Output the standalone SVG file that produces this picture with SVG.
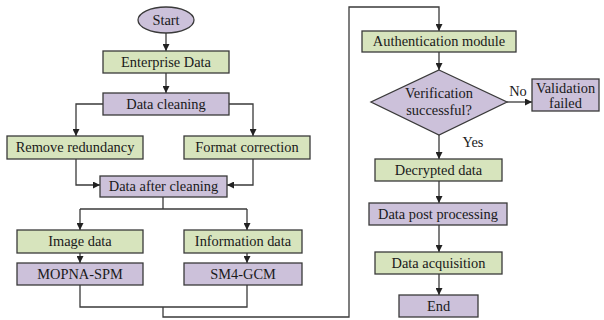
<svg xmlns="http://www.w3.org/2000/svg" width="604" height="320" viewBox="0 0 604 320">
<style>
.g{fill:#d7e4bd;stroke:#3a3a3a;stroke-width:1.3}
.p{fill:#ccc1da;stroke:#3a3a3a;stroke-width:1.3}
.t{font-family:"Liberation Serif","Times New Roman",serif;font-size:14.4px;fill:#1a1a1a;text-anchor:middle}
.c{fill:none;stroke:#3a3a3a;stroke-width:1.3}
</style>
<defs>
<marker id="a" viewBox="0 0 10 10" refX="10" refY="5" markerWidth="7" markerHeight="7" markerUnits="userSpaceOnUse" orient="auto">
<path d="M0,0 L10,5 L0,10 z" fill="#222"/>
</marker>
</defs>
<rect width="604" height="320" fill="#fff"/>
<g id="connectors">
<path class="c" d="M166,33 V51" marker-end="url(#a)"/>
<path class="c" d="M166,73 V93" marker-end="url(#a)"/>
<path class="c" d="M103,104 H76 V136" marker-end="url(#a)"/>
<path class="c" d="M229,104 H253 V136" marker-end="url(#a)"/>
<path class="c" d="M76,159 V185 H100" marker-end="url(#a)"/>
<path class="c" d="M253,159 V185 H227" marker-end="url(#a)"/>
<path class="c" d="M163,197 V209"/>
<path class="c" d="M80,209 H247"/>
<path class="c" d="M80,209 V230" marker-end="url(#a)"/>
<path class="c" d="M247,209 V230" marker-end="url(#a)"/>
<path class="c" d="M80,253 V263" marker-end="url(#a)"/>
<path class="c" d="M247,253 V263" marker-end="url(#a)"/>
<path class="c" d="M80,285 V307 H247 V285"/>
<path class="c" d="M163,307 V317 H349 V7 H439 V31" marker-end="url(#a)"/>
<path class="c" d="M439,52 V70" marker-end="url(#a)"/>
<path class="c" d="M507,102 H532" marker-end="url(#a)"/>
<path class="c" d="M439,135 V159" marker-end="url(#a)"/>
<path class="c" d="M439,181 V203" marker-end="url(#a)"/>
<path class="c" d="M439,225 V252" marker-end="url(#a)"/>
<path class="c" d="M439,274 V295" marker-end="url(#a)"/>
<text class="t" x="518" y="96">No</text>
<text class="t" x="473" y="147">Yes</text>
</g>
<g id="start"><ellipse class="p" cx="166" cy="20" rx="28" ry="13"/><text class="t" x="166" y="25">Start</text></g>
<g id="enterprise"><rect class="g" x="103" y="51" width="126" height="22"/><text class="t" x="166" y="67">Enterprise Data</text></g>
<g id="cleaning"><rect class="p" x="103" y="93" width="126" height="22"/><text class="t" x="166" y="109">Data cleaning</text></g>
<g id="redundancy"><rect class="g" x="7" y="136" width="136" height="23"/><text class="t" x="75" y="152">Remove redundancy</text></g>
<g id="format"><rect class="g" x="184" y="136" width="126" height="23"/><text class="t" x="247" y="152">Format correction</text></g>
<g id="after"><rect class="p" x="100" y="176" width="127" height="21"/><text class="t" x="163.5" y="191">Data after cleaning</text></g>
<g id="image"><rect class="g" x="17" y="230" width="126" height="23"/><text class="t" x="80" y="246">Image data</text></g>
<g id="info"><rect class="g" x="184" y="230" width="118" height="23"/><text class="t" x="243" y="246">Information data</text></g>
<g id="mopna"><rect class="p" x="17" y="263" width="126" height="22"/><text class="t" x="80" y="279">MOPNA-SPM</text></g>
<g id="sm4"><rect class="p" x="184" y="263" width="118" height="22"/><text class="t" x="243" y="279">SM4-GCM</text></g>
<g id="auth"><rect class="g" x="362" y="31" width="154" height="21"/><text class="t" x="439" y="46">Authentication module</text></g>
<g id="verify"><polygon class="p" points="439,70 507,102 439,135 371,102"/><text class="t" x="439" y="98">Verification</text><text class="t" x="439" y="115">successful?</text></g>
<g id="failed"><rect class="p" x="532" y="79" width="67" height="32"/><text class="t" x="565.5" y="93">Validation</text><text class="t" x="565.5" y="108">failed</text></g>
<g id="decrypted"><rect class="g" x="375" y="159" width="127" height="22"/><text class="t" x="438.5" y="175">Decrypted data</text></g>
<g id="post"><rect class="p" x="369" y="203" width="138" height="22"/><text class="t" x="438" y="219">Data post processing</text></g>
<g id="acq"><rect class="g" x="375" y="252" width="127" height="22"/><text class="t" x="438.5" y="268">Data acquisition</text></g>
<g id="end"><rect class="p" x="399" y="295" width="79" height="22"/><text class="t" x="438.5" y="311">End</text></g>
</svg>
